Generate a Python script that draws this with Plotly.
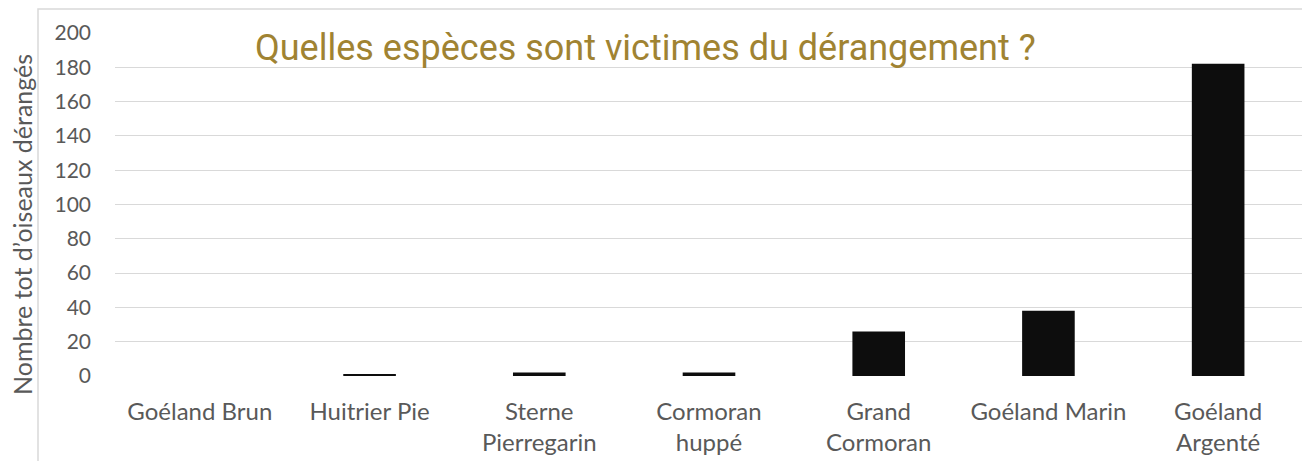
import plotly.graph_objects as go

categories = ["Goéland Brun", "Huitrier Pie", "Sterne<br>Pierregarin", "Cormoran<br>huppé",
              "Grand<br>Cormoran", "Goéland Marin", "Goéland<br>Argenté"]
values = [0, 1, 2, 2, 26, 38, 182]
y_ticks = list(range(0, 201, 20))

title_text = "Quelles espèces sont victimes du dérangement ?"
y_title = "Nombre tot d’oiseaux dérangés"

fig = go.Figure(go.Bar(x=categories, y=values, marker=dict(color="#0d0d0d", line=dict(width=0)),
                       width=0.31))

OFF = 8  # page body margin
W, H = 1310 - OFF, 461 - OFF
L, T = 115 - OFF, 33 - OFF
R = W - (1303 - OFF)
B = H - (376 - OFF)
pw, ph = W - L - R, H - T - B

def px_x(x):
    return (x - OFF - L) / pw

def px_y(y):
    return (H - B - (y - OFF)) / ph

fig.update_layout(
    width=W, height=H,
    margin=dict(l=L, r=R, t=T, b=B, autoexpand=False),
    paper_bgcolor="white", plot_bgcolor="white",
    showlegend=False,
    font=dict(family="Lato, Open Sans, sans-serif", color="#595959", size=18),
    xaxis=dict(showgrid=False, showline=False, zeroline=False, ticks="", automargin=False,
               ticklabelstandoff=19, tickfont=dict(size=24, color="#595959")),
    yaxis=dict(range=[0, 200], tickvals=y_ticks, showgrid=True, gridcolor="#d9d9d9", gridwidth=1,
               zeroline=False, showline=False, ticks="", ticklabelstandoff=23, automargin=False,
               tickfont=dict(size=21, color="#595959")),
    shapes=[dict(type="rect", xref="paper", yref="paper",
                 x0=px_x(38), x1=px_x(1330), y0=px_y(480), y1=px_y(9),
                 line=dict(color="#d9d9d9", width=1.5), fillcolor="rgba(0,0,0,0)", layer="below")],
    annotations=[
        dict(text=title_text, xref="paper", yref="paper", x=px_x(645), y=px_y(48),
             xanchor="center", yanchor="middle", showarrow=False,
             font=dict(family="Roboto, sans-serif", size=36, color="#a08332")),
        dict(text=y_title, xref="paper", yref="paper", x=px_x(22), y=px_y(225),
             xanchor="center", yanchor="middle", showarrow=False, textangle=-90,
             borderpad=0,
             font=dict(family="Lato, sans-serif", size=25, color="#595959")),
    ],
)

fig.write_html("out.html")
